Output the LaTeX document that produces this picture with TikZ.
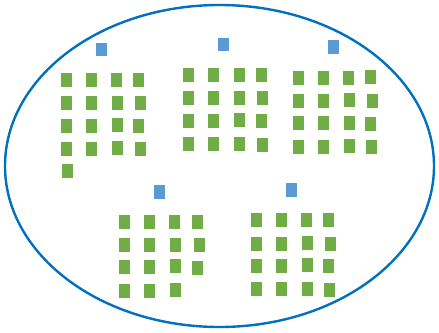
\documentclass[tikz,border=0pt]{standalone}
\definecolor{ellblue}{HTML}{0070C0}
\definecolor{sqgreen}{HTML}{70AD47}
\definecolor{sqblue}{HTML}{5B9BD5}
\tikzset{
  ell/.style={draw=ellblue, line width=2.4pt},
  gsq/.style={fill=sqgreen, draw=none, inner sep=0pt, outer sep=0pt, minimum width=11pt, minimum height=14pt},
  bsq/.style={fill=sqblue, draw=none, inner sep=0pt, outer sep=0pt, minimum width=11pt, minimum height=13.5pt}
}
\begin{document}
\begin{tikzpicture}[x=1pt,y=-1pt]
\useasboundingbox (0,0) rectangle (439,332);
\fill[white] (0,0) rectangle (439,332);
\draw[ell] (219.5,166) ellipse [x radius=214.5pt, y radius=161pt];
% blue squares
\node[bsq] (b1) at (101.5,49.5) {};
\node[bsq] (b2) at (223.5,44.5) {};
\node[bsq] (b3) at (333.5,47) {};
\node[bsq] (b4) at (159.5,192) {};
\node[bsq] (b5) at (291.5,190) {};
% group 1
\foreach \x/\y [count=\i] in {66.5/80,91.5/80,116.5/80,138.5/80,
  66.5/103,91.5/103,117.5/103,140.5/103,
  66.5/125.5,91.5/125.5,117.5/125,138.5/126,
  66.5/149,91.5/149,117.5/148,140/149,
  67/170.5}
  \node[gsq] (ga\i) at (\x,\y) {};
% group 2
\foreach \x/\y [count=\i] in {188.5/75,213.5/75,239/75,261/75,
  188.5/98,213.5/98,239.5/98,262.5/98,
  188.5/120.5,213.5/120.5,239.5/120,261/121,
  188.5/144,213.5/144,239.5/144,262/145}
  \node[gsq] (gb\i) at (\x,\y) {};
% group 3
\foreach \x/\y [count=\i] in {298.5/78,323.5/78,348.5/78,370.5/77,
  298.5/101,323.5/101,349.5/100,372.5/101,
  298.5/123,323.5/123,349.5/122.5,370.5/123.5,
  298.5/146.5,323.5/146.5,349.5/146,371.5/147}
  \node[gsq] (gc\i) at (\x,\y) {};
% group 4
\foreach \x/\y [count=\i] in {124.5/222,149.5/222,174.5/222,197.5/221.5,
  124.5/245,149.5/245,175.5/245,199/245,
  124.5/267,149.5/267,175.5/266,197.5/268,
  124.5/291,149.5/291,175.5/290}
  \node[gsq] (gd\i) at (\x,\y) {};
% group 5
\foreach \x/\y [count=\i] in {256/220,281/220,306.5/220,328.5/220,
  256/243.5,281/243.5,307.5/243,330.5/243.5,
  256/266,281/266,307.5/265,328.5/266,
  256/289,281/289,307.5/288.5,329.5/290}
  \node[gsq] (ge\i) at (\x,\y) {};
\end{tikzpicture}
\end{document}
